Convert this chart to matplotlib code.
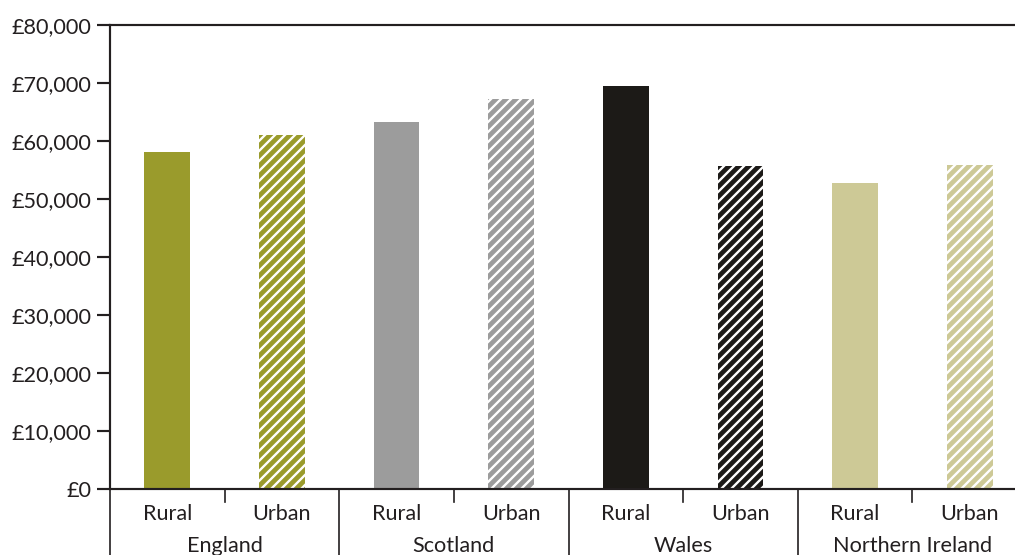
import matplotlib
matplotlib.use("Agg")
import matplotlib.pyplot as plt
from matplotlib.ticker import FuncFormatter, FixedLocator
import matplotlib.transforms as mtransforms

countries = ["England", "Scotland", "Wales", "Northern Ireland"]
areas = ["Rural", "Urban"]
rural_values = [58100, 63300, 69500, 52800]
urban_values = [61000, 67200, 55700, 55900]
country_colors = ["#9a9b2c", "#9c9c9c", "#1c1a17", "#cdc996"]
y_ticks = list(range(0, 80001, 10000))

DPI = 120
plt.rcParams["font.family"] = ["Lato", "DejaVu Sans"]
plt.rcParams["hatch.linewidth"] = 1.4

fig = plt.figure(figsize=(1015 / DPI, 555 / DPI), dpi=DPI)
W, H = 1015, 555
left, right, top, bottom = 110, 1027, 25, 489
ax = fig.add_axes([left / W, (H - bottom) / H, (right - left) / W, (bottom - top) / H])

bar_w = 0.4
ink = "#231f20"
fs = 13
for i, c in enumerate(countries):
    xr = 2 * i
    xu = 2 * i + 1
    ax.bar(xr, rural_values[i], width=bar_w, color=country_colors[i], lw=0, zorder=2)
    ax.bar(xu, urban_values[i], width=bar_w, facecolor=country_colors[i],
           edgecolor="white", hatch="////", lw=0, zorder=2)

ax.set_xlim(-0.5, 7.5)
ax.set_ylim(0, 80000)
ax.yaxis.set_major_locator(FixedLocator(y_ticks))
ax.yaxis.set_major_formatter(FuncFormatter(lambda v, p: f"£{int(v):,}"))
ax.tick_params(axis="y", length=8, width=1.3, color=ink, labelsize=fs,
               labelcolor=ink, pad=3)

for s in ["left", "top", "bottom"]:
    ax.spines[s].set_color(ink)
    ax.spines[s].set_linewidth(1.3)
ax.spines["right"].set_visible(False)

# category labels and separators below the axis
ax.set_xticks([])
trans = mtransforms.blended_transform_factory(ax.transData, ax.transAxes)
px = 1.0 / (bottom - top)
for i, c in enumerate(countries):
    for j, a in enumerate(areas):
        ax.text(2 * i + j, -25 * px, a, transform=trans, ha="center", va="center",
                fontsize=fs, color=ink)
    ax.text(2 * i + 0.5, -57 * px, c, transform=trans, ha="center", va="center",
            fontsize=fs, color=ink, clip_on=False)
    # short tick between Rural and Urban
    ax.plot([2 * i + 0.5, 2 * i + 0.5], [0, -13 * px], transform=trans,
            color=ink, lw=1.0, clip_on=False)
    # long separator between countries
    ax.plot([2 * i - 0.5, 2 * i - 0.5], [0, -80 * px], transform=trans,
            color=ink, lw=1.0, clip_on=False)

fig.savefig("out.png", dpi=DPI)
